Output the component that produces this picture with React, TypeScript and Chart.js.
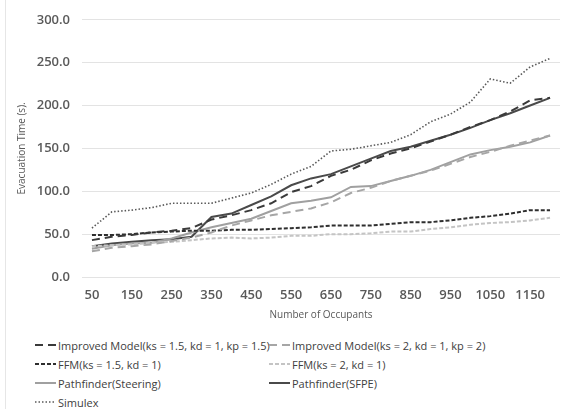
import React, { useEffect, useRef } from "react";
import { Chart, registerables } from "chart.js";

Chart.register(...registerables);

const categories = [
  "50", "100", "150", "200", "250", "300", "350", "400", "450", "500", "550", "600",
  "650", "700", "750", "800", "850", "900", "950", "1000", "1050", "1100", "1150", "1200",
];

const improved15 = [43, 47, 49, 52, 54, 57, 67, 72, 78, 86, 99, 106, 118, 125, 136, 144, 150, 158, 166, 175, 183, 193, 206, 209];
const improved2 = [30, 34, 36, 38, 42, 46, 52, 60, 66, 72, 76, 80, 87, 98, 104, 112, 118, 124, 132, 140, 146, 153, 159, 165];
const ffm15 = [49, 49, 50, 52, 53, 54, 54, 55, 55, 56, 57, 58, 60, 60, 60, 62, 64, 64, 66, 69, 71, 74, 78, 78];
const ffm2 = [36, 37, 38, 40, 41, 43, 45, 46, 45, 46, 48, 48, 50, 50, 51, 53, 53, 56, 58, 61, 63, 64, 66, 69];
const steering = [33, 37, 39, 40, 45, 52, 58, 63, 68, 77, 86, 89, 93, 105, 106, 112, 118, 125, 134, 143, 148, 152, 157, 165];
const sfpe = [36, 39, 41, 43, 44, 47, 70, 74, 84, 94, 107, 115, 120, 129, 138, 147, 152, 159, 166, 174, 183, 191, 200, 209];
const simulex = [57, 76, 78, 81, 86, 86, 86, 92, 98, 108, 120, 129, 147, 149, 153, 157, 166, 181, 190, 204, 231, 226, 245, 255];

const yTicks = [0, 50, 100, 150, 200, 250, 300];

const seriesNames = [
  "Improved Model(ks = 1.5, kd = 1, kp = 1.5)",
  "Improved Model(ks = 2, kd = 1, kp = 2)",
  "FFM(ks = 1.5, kd = 1)",
  "FFM(ks = 2, kd = 1)",
  "Pathfinder(Steering)",
  "Pathfinder(SFPE)",
  "Simulex",
];

const styles = [
  { color: "#3a3a3a", dash: [8, 5], width: 2 },
  { color: "#a6a6a6", dash: [8, 5], width: 2 },
  { color: "#2e2e2e", dash: [4, 2], width: 2 },
  { color: "#c4c4c4", dash: [4, 2], width: 2 },
  { color: "#a0a0a0", dash: [], width: 2 },
  { color: "#4a4a4a", dash: [], width: 2 },
  { color: "#5a5a5a", dash: [1.5, 2], width: 1.6 },
];

const FONT = "'Open Sans', 'Noto Sans', sans-serif";

export default function App() {
  const ref = useRef<HTMLCanvasElement | null>(null);

  useEffect(() => {
    const allData = [improved15, improved2, ffm15, ffm2, steering, sfpe, simulex];
    const chart = new Chart(ref.current as HTMLCanvasElement, {
      type: "line",
      data: {
        labels: categories,
        datasets: allData.map((d, i) => ({
          label: seriesNames[i],
          data: d,
          borderColor: styles[i].color,
          backgroundColor: styles[i].color,
          borderDash: styles[i].dash,
          borderWidth: styles[i].width,
          borderCapStyle: "butt" as const,
          pointRadius: 0,
          tension: 0,
          fill: false,
        })),
      },
      options: {
        animation: false,
        responsive: false,
        maintainAspectRatio: false,
        layout: { padding: { left: 0, right: 8, top: 12, bottom: 0 } },
        plugins: {
          legend: { display: false },
          tooltip: { enabled: false },
        },
        scales: {
          x: {
            type: "category",
            offset: true,
            grid: { display: false, drawTicks: false },
            border: { display: false },
            ticks: {
              autoSkip: false,
              maxRotation: 0,
              minRotation: 0,
              padding: 10,
              color: "#595959",
              font: { family: FONT, size: 13, weight: "600" },
              callback: (_v: any, idx: number) => (idx % 2 === 0 ? categories[idx] : ""),
            },
            title: {
              display: true,
              text: "Number of Occupants",
              color: "#595959",
              font: { family: FONT, size: 10, weight: "normal" },
              padding: { top: 0, bottom: 5 },
            },
            afterFit: (s: any) => {
              s.height = 49;
            },
          },
          y: {
            min: 0,
            max: 300,
            afterBuildTicks: (s: any) => {
              s.ticks = yTicks.map((v) => ({ value: v }));
            },
            grid: { color: "#e3e3e3", lineWidth: 1, drawTicks: false },
            border: { display: false },
            ticks: {
              padding: 12,
              color: "#595959",
              font: { family: FONT, size: 13, weight: "600" },
              callback: (v: any) => Number(v).toFixed(1),
            },
            title: {
              display: true,
              text: "Evacuation Time (s).",
              color: "#595959",
              font: { family: FONT, size: 10, weight: "normal" },
              padding: { top: 16, bottom: 0 },
            },
            afterFit: (s: any) => {
              s.width = 82;
            },
          },
        },
      },
    });
    return () => chart.destroy();
  }, []);

  const legendPos = [
    { x: 35, y: 345 },
    { x: 269, y: 345 },
    { x: 35, y: 364 },
    { x: 269, y: 364 },
    { x: 35, y: 383 },
    { x: 269, y: 383 },
    { x: 35, y: 402 },
  ];

  return (
    <div
      style={{
        position: "fixed",
        left: 0,
        top: 0,
        width: 568,
        height: 409,
        background: "#ffffff",
        overflow: "hidden",
      }}
    >
      <div style={{ position: "absolute", left: 5, top: 0, width: 1, height: 409, background: "#e6e6e6" }} />
      <canvas ref={ref} width={568} height={326} style={{ position: "absolute", left: 0, top: 0, width: 568, height: 326 }} />
      {seriesNames.map((name, i) => (
        <div
          key={name}
          style={{
            position: "absolute",
            left: legendPos[i].x,
            top: legendPos[i].y - 9,
            height: 18,
            display: "flex",
            alignItems: "center",
            whiteSpace: "nowrap",
            fontFamily: FONT,
            fontSize: 11,
            color: "#404040",
          }}
        >
          <svg width={21} height={6} style={{ marginRight: 2 }}>
            <line
              x1={0}
              y1={3}
              x2={21}
              y2={3}
              stroke={styles[i].color}
              strokeWidth={styles[i].width}
              strokeDasharray={styles[i].dash.length ? styles[i].dash.join(",") : undefined}
            />
          </svg>
          <span>{name}</span>
        </div>
      ))}
    </div>
  );
}
